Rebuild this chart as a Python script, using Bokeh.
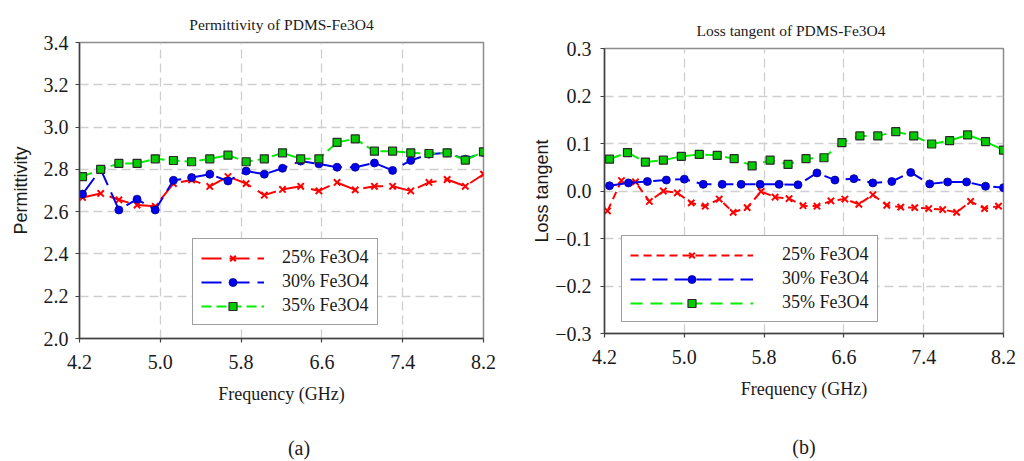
from bokeh.plotting import figure
from bokeh.layouts import row, column
from bokeh.models import Range1d, FixedTicker, Legend, LegendItem, Title, LinearAxis
from bokeh.embed import file_html
from bokeh.resources import INLINE

# ---------------- data ----------------
# (a) Permittivity
freq_a = [4.23, 4.41, 4.59, 4.77, 4.95, 5.13, 5.31, 5.49, 5.67, 5.85, 6.03, 6.21,
          6.39, 6.57, 6.75, 6.93, 7.12, 7.30, 7.48, 7.66, 7.84, 8.02, 8.20]
perm_25 = [2.667, 2.686, 2.656, 2.631, 2.625, 2.733, 2.750, 2.719, 2.766, 2.733, 2.678, 2.705,
           2.720, 2.698, 2.738, 2.703, 2.720, 2.720, 2.698, 2.738, 2.752, 2.720, 2.777]
perm_30 = [2.683, 2.800, 2.608, 2.659, 2.608, 2.748, 2.761, 2.777, 2.745, 2.792, 2.777, 2.805,
           2.839, 2.826, 2.810, 2.810, 2.830, 2.795, 2.842, 2.872, 2.878, 2.848, 2.880]
perm_35 = [2.766, 2.800, 2.828, 2.828, 2.850, 2.842, 2.836, 2.850, 2.867, 2.836, 2.850, 2.878,
           2.850, 2.850, 2.928, 2.944, 2.886, 2.886, 2.878, 2.875, 2.878, 2.844, 2.883]

# (b) Loss tangent
freq_b25 = [4.23, 4.37, 4.51, 4.65, 4.79, 4.93, 5.07, 5.21, 5.35, 5.49, 5.63, 5.77, 5.91, 6.05, 6.19,
            6.33, 6.47, 6.61, 6.75, 6.89, 7.03, 7.17, 7.31, 7.45, 7.59, 7.73, 7.87, 8.01, 8.15]
tan_25 = [-0.042, 0.022, 0.019, -0.022, 0.000, -0.004, -0.025, -0.032, -0.017, -0.045, -0.035,
          -0.001, -0.013, -0.016, -0.031, -0.032, -0.021, -0.017, -0.028, -0.008, -0.030, -0.034,
          -0.035, -0.037, -0.039, -0.045, -0.022, -0.037, -0.032]
freq_b30 = [4.25, 4.44, 4.63, 4.82, 5.00, 5.19, 5.38, 5.57, 5.76, 5.95, 6.14, 6.33,
            6.51, 6.70, 6.89, 7.08, 7.27, 7.46, 7.64, 7.83, 8.02, 8.20]
tan_30 = [0.011, 0.017, 0.020, 0.023, 0.025, 0.014, 0.014, 0.014, 0.014, 0.014, 0.013, 0.038,
          0.023, 0.026, 0.017, 0.020, 0.039, 0.015, 0.019, 0.019, 0.010, 0.007]
freq_b35 = [4.25, 4.43, 4.61, 4.79, 4.97, 5.15, 5.33, 5.50, 5.68, 5.86, 6.04, 6.22,
            6.40, 6.58, 6.76, 6.94, 7.12, 7.30, 7.48, 7.66, 7.84, 8.02, 8.20]
tan_35 = [0.067, 0.081, 0.061, 0.065, 0.073, 0.077, 0.075, 0.068, 0.053, 0.065, 0.056, 0.068,
          0.070, 0.102, 0.116, 0.116, 0.125, 0.116, 0.099, 0.106, 0.118, 0.104, 0.086]

series_labels = ["25% Fe3O4", "30% Fe3O4", "35% Fe3O4"]
x_ticks = [4.2, 5.0, 5.8, 6.6, 7.4, 8.2]
x_tick_labels = ["4.2", "5.0", "5.8", "6.6", "7.4", "8.2"]
ya_ticks = [2.0, 2.2, 2.4, 2.6, 2.8, 3.0, 3.2, 3.4]
ya_tick_labels = ["2.0", "2.2", "2.4", "2.6", "2.8", "3.0", "3.2", "3.4"]
yb_ticks = [-0.3, -0.2, -0.1, 0.0, 0.1, 0.2, 0.3]
yb_tick_labels = ["\u22120.3", "\u22120.2", "\u22120.1", "0.0", "0.1", "0.2", "0.3"]

SERIF = "Liberation Serif, Times New Roman, serif"
SANS = "Liberation Sans, Arial, sans-serif"
RED = "#ff0000"
BLUE = "#0000ee"
GREEN = "#00ee00"
TXT = "#1a1a1a"


def base_fig(width, height, yr, borders, yticks, ylabels, ylabel, ystandoff, ylabel_standoff,
             xstandoff, xlabel_standoff, title, title_align, title_offset, title_standoff,
             caption, caption_standoff):
    p = figure(width=width, height=height, output_backend="svg", toolbar_location=None,
               x_range=Range1d(4.2, 8.2), y_range=Range1d(*yr),
               min_border_left=borders[0], min_border_right=borders[1],
               min_border_top=borders[2], min_border_bottom=borders[3])
    p.title = Title(text=title, align=title_align, offset=title_offset, text_font=SERIF,
                    text_font_size="15.5px", text_font_style="normal", text_color=TXT,
                    standoff=title_standoff, vertical_align="bottom")
    p.background_fill_color = "white"
    p.border_fill_color = "white"
    p.outline_line_color = "#8c8c8c"
    p.outline_line_width = 1.5

    for axs in (p.xaxis, p.yaxis):
        axs.axis_line_color = "#404040"
        axs.axis_line_width = 1.5
        axs.major_tick_line_color = "#404040"
        axs.major_tick_line_width = 1.2
        axs.major_tick_in = 0
        axs.major_tick_out = 4
        axs.minor_tick_line_color = None
        axs.major_label_text_font = SERIF
        axs.major_label_text_font_size = "20px"
        axs.major_label_text_color = TXT
        axs.axis_label_text_font_style = "normal"
        axs.axis_label_text_color = TXT
        axs.axis_label_text_font_size = "18px"

    p.xaxis.ticker = FixedTicker(ticks=x_ticks)
    p.xaxis.major_label_overrides = {t: s for t, s in zip(x_ticks, x_tick_labels)}
    p.yaxis.ticker = FixedTicker(ticks=yticks)
    p.yaxis.major_label_overrides = {t: s for t, s in zip(yticks, ylabels)}
    p.xaxis.axis_label = "Frequency (GHz)"
    p.xaxis.axis_label_text_font = SERIF
    p.xaxis.major_label_standoff = xstandoff
    p.xaxis.axis_label_standoff = xlabel_standoff
    p.yaxis.axis_label = ylabel
    p.yaxis.axis_label_text_font = SANS
    p.yaxis.major_label_standoff = ystandoff
    p.yaxis.axis_label_standoff = ylabel_standoff
    for g in (p.xgrid[0], p.ygrid[0]):
        g.grid_line_color = "#cfcfcf"
        g.grid_line_dash = "9 5"
        g.grid_line_width = 1.3

    # sub-figure caption, carried by a bare extra axis below the x axis
    cap = LinearAxis(ticker=FixedTicker(ticks=[]), axis_line_color=None,
                     major_tick_line_color=None, minor_tick_line_color=None,
                     major_tick_in=0, major_tick_out=0, minor_tick_in=0, minor_tick_out=0,
                     major_label_standoff=0, axis_label=caption,
                     axis_label_standoff=caption_standoff, axis_label_text_font=SERIF,
                     axis_label_text_font_size="20px", axis_label_text_font_style="normal",
                     axis_label_text_color=TXT)
    p.add_layout(cap, "below")
    return p


def add_series(p, xs, ys, color, dash, kind):
    l = p.line(xs, ys, line_color=color, line_width=2, line_dash=dash)
    if kind == "x":
        s = p.scatter(xs, ys, marker="x", size=9, line_color=color, line_width=2)
    elif kind == "circle":
        s = p.scatter(xs, ys, marker="circle", size=8, fill_color=color, line_color="#00008b",
                      line_width=0.8)
    else:
        s = p.scatter(xs, ys, marker="square", size=8, fill_color="#00cc00", line_color="#2a2a2a",
                      line_width=1.2)
    return [l, s]


def make_legend(p, items, loc, glyph_w, standoff):
    lg = Legend(items=[LegendItem(label=lab, renderers=r) for lab, r in items],
                location=loc, glyph_width=glyph_w, glyph_height=20, label_height=20,
                label_standoff=standoff, spacing=3, padding=8, margin=0,
                label_text_font=SERIF, label_text_font_size="18px",
                label_text_color=TXT,
                border_line_color="#404040", border_line_width=1.5,
                background_fill_color="white", background_fill_alpha=1.0)
    p.add_layout(lg)


# ---------------- (a) ----------------
pa = base_fig(512, 461, (2.0, 3.4), (79, 29, 42, 122), ya_ticks, ya_tick_labels,
              "Permittivity", 7, 10, 12, 12,
              "Permittivity of PDMS-Fe3O4", "center", 0, 19,
              "\u00a0" * 7 + "(a)", 30)
ra = add_series(pa, freq_a, perm_25, RED, "20 8", "x")
rb = add_series(pa, freq_a, perm_30, BLUE, "20 8", "circle")
rc = add_series(pa, freq_a, perm_35, GREEN, "10 5", "square")
make_legend(pa, list(zip(series_labels, [ra, rb, rc])), (113, 13), 63, 18)

# ---------------- (b) ----------------
pb = base_fig(510, 461, (-0.3, 0.3), (92, 19, 48, 128), yb_ticks, yb_tick_labels,
              "Loss tangent", 9, 0, 12, 12,
              "Loss tangent of PDMS-Fe3O4", "left", 92, 19,
              "(b)", 34)
rd = add_series(pb, freq_b25, tan_25, RED, "8 5", "x")
re_ = add_series(pb, freq_b30, tan_30, BLUE, "15 7", "circle")
rf = add_series(pb, freq_b35, tan_35, GREEN, "12 8", "square")
make_legend(pb, list(zip(series_labels, [rd, re_, rf])), (17, 11), 123, 29)

layout = row(column(pa), column(pb))
open("out.html", "w").write(file_html(layout, INLINE))
